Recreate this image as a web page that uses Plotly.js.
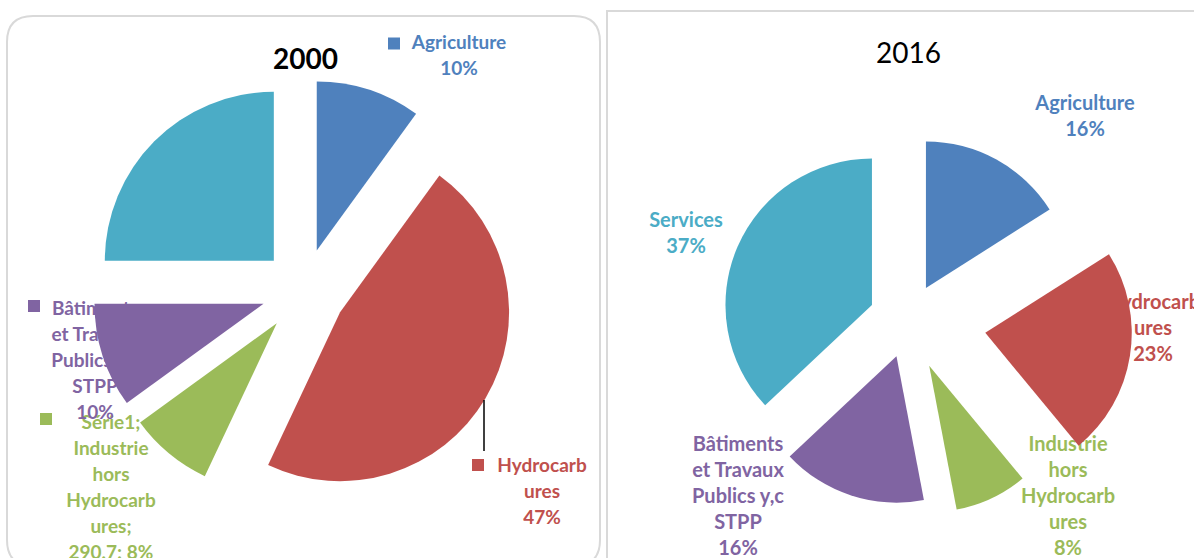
<!DOCTYPE html>
<html>
<head>
<meta charset="utf-8">
<script src="https://cdn.plot.ly/plotly-3.0.1.min.js"></script>
<style>
html,body{margin:0;padding:0;background:#fff;}
#chart{width:1194px;height:558px;}
</style>
</head>
<body>
<div id="chart"></div>
<script>
// ---------------- DATA ----------------
const categories = ['Agriculture', 'Hydrocarbures', 'Industrie hors Hydrocarbures', 'Bâtiments et Travaux Publics y,c STPP', 'Services'];
const values2000 = [10, 47, 8, 10, 25];
const values2016 = [16, 23, 8, 16, 37];
const industrie2000Value = '290,7';
const seriesName = 'Série1';
const titles = ['2000', '2016'];
// wrapped label lines (as in the original data labels)
const wrapped2000 = [['Agriculture'], ['Hydrocarb', 'ures'], [seriesName + ';', 'Industrie', 'hors', 'Hydrocarb', 'ures;'], ['Bâtiments', 'et Travaux', 'Publics y,c', 'STPP'], null];
const wrapped2016 = [['Agriculture'], ['Hydrocarb', 'ures'], ['Industrie', 'hors', 'Hydrocarb', 'ures'], ['Bâtiments', 'et Travaux', 'Publics y,c', 'STPP'], ['Services']];
const colors = ['#4F81BD', '#C0504D', '#9BBB59', '#8064A2', '#4BACC6'];

// ---------------- LAYOUT CONFIG ----------------
const W = 1194, H = 558;
const FONT = 'Lato, "Open Sans", sans-serif';
const LINE = 26;
// label anchor (center x, first line y) in pixels
const labelPos2000 = [[459, 44], [542, 467], [111, 424], [95, 310], null];
const labelPos2016 = [[1085, 105], [1153, 304], [1068, 446], [738, 446], [686, 222]];
const keyPos2000 = [[394, 43.5], [478, 465], [46, 419], [34, 306], null];
const pull2000 = [0.25, 0.25, 0.25, 0.25, 0.25];
const pull2016 = [0.254, 0.534, 0.34, 0.255, 0.268];
// pie centers and base radius (pixels)
const pie2000 = {cx: 303.7, cy: 290.7, r: 169};
const pie2016 = {cx: 908, cy: 320.6, r: 146.5};

function pct(vals, i) {
  const s = vals.reduce((a, b) => a + b, 0);
  return Math.round(vals[i] / s * 100) + '%';
}
function domainFor(p, pulls) {
  const half = p.r * (1 + Math.max(...pulls));
  return {
    x: [(p.cx - half) / W, (p.cx + half) / W],
    y: [1 - (p.cy + half) / H, 1 - (p.cy - half) / H]
  };
}
function labelTrace(vals, wrapped, pos, lastPrefix, size) {
  const xs = [], ys = [], ts = [], cs = [];
  wrapped.forEach((lines, i) => {
    if (!lines) return;
    let all = lines.slice();
    let last = pct(vals, i);
    if (lastPrefix[i]) last = lastPrefix[i] + last;
    all.push(last);
    all.forEach((t, k) => {
      xs.push(pos[i][0]); ys.push(pos[i][1] + k * LINE); ts.push(t); cs.push(colors[i]);
    });
  });
  return {
    type: 'scatter', mode: 'text', x: xs, y: ys, text: ts,
    textposition: 'middle center',
    textfont: {family: FONT, size: size, color: cs, weight: 'bold'},
    hoverinfo: 'skip', showlegend: false, cliponaxis: false
  };
}

const traces = [];
traces.push(labelTrace(values2000, wrapped2000, labelPos2000, [null, null, industrie2000Value + '; ', null, null], 19));
traces.push(labelTrace(values2016, wrapped2016, labelPos2016, [null, null, null, null, null], 20));

// legend keys in 2000 labels
const kx = [], ky = [], kc = [];
keyPos2000.forEach((p, i) => { if (p) { kx.push(p[0]); ky.push(p[1]); kc.push(colors[i]); } });
traces.push({type: 'scatter', mode: 'markers', x: kx, y: ky,
  marker: {symbol: 'square', size: 12, color: kc, line: {width: 0}},
  hoverinfo: 'skip', showlegend: false, cliponaxis: false});

traces.push({
  type: 'pie', labels: categories, values: values2000, sort: false, direction: 'clockwise', rotation: 0,
  pull: pull2000, marker: {colors: colors, line: {width: 0}}, textinfo: 'none', hoverinfo: 'label+percent',
  showlegend: false, domain: domainFor(pie2000, pull2000)
});
traces.push({
  type: 'pie', labels: categories, values: values2016, sort: false, direction: 'clockwise', rotation: 0,
  pull: pull2016, marker: {colors: colors, line: {width: 0}}, textinfo: 'none', hoverinfo: 'label+percent',
  showlegend: false, domain: domainFor(pie2016, pull2016)
});

const layout = {
  width: W, height: H,
  margin: {l: 0, r: 0, t: 0, b: 0},
  paper_bgcolor: '#ffffff', plot_bgcolor: 'rgba(0,0,0,0)',
  showlegend: false,
  xaxis: {range: [0, W], visible: false, fixedrange: true},
  yaxis: {range: [H, 0], visible: false, fixedrange: true},
  shapes: [
    {type: 'path', xref: 'x', yref: 'y', layer: 'below',
     path: 'M7,42 Q7,16 33,16 L574,16 Q600,16 600,42 L600,540 Q600,566 574,566 L33,566 Q7,566 7,540 Z',
     line: {color: '#d9d9d9', width: 2}, fillcolor: 'rgba(0,0,0,0)'},
    {type: 'path', xref: 'x', yref: 'y', layer: 'below',
     path: 'M607,600 L607,11 L1210,11',
     line: {color: '#d9d9d9', width: 2}, fillcolor: 'rgba(0,0,0,0)'},
    {type: 'line', xref: 'x', yref: 'y', x0: 484, x1: 484, y0: 400, y1: 451,
     line: {color: '#000000', width: 1.5}}
  ],
  annotations: [
    {xref: 'x', yref: 'y', x: 305, y: 58, text: titles[0], showarrow: false,
     font: {family: FONT, size: 28, color: '#000', weight: 'bold'}},
    {xref: 'x', yref: 'y', x: 908, y: 52, text: titles[1], showarrow: false,
     font: {family: FONT, size: 28, color: '#000', weight: 'normal'}}
  ]
};

Plotly.newPlot('chart', traces, layout, {displayModeBar: false, staticPlot: true});
</script>
</body>
</html>
